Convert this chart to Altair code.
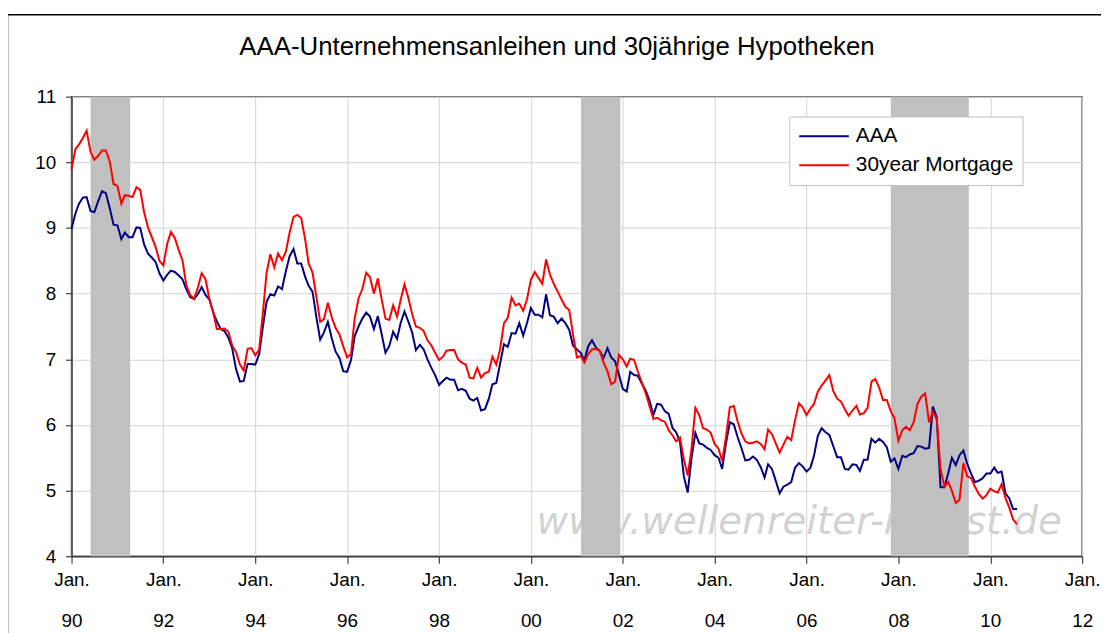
import altair as alt
import pandas as pd

# ---- data (monthly, Jan 1990 .. Aug 2010) ----
start_month = "1990-01-01"

aaa = [
    8.99, 9.22, 9.37, 9.46, 9.47, 9.26, 9.24, 9.41, 9.56, 9.53, 9.30, 9.05,   # 1990
    9.04, 8.83, 8.93, 8.86, 8.86, 9.01, 9.00, 8.75, 8.61, 8.55, 8.48, 8.31,   # 1991
    8.20, 8.29, 8.35, 8.33, 8.28, 8.22, 8.07, 7.95, 7.92, 7.99, 8.10, 7.98,   # 1992
    7.91, 7.71, 7.58, 7.46, 7.43, 7.33, 7.17, 6.85, 6.66, 6.67, 6.93, 6.93,   # 1993
    6.92, 7.08, 7.48, 7.88, 7.99, 7.97, 8.11, 8.07, 8.34, 8.57, 8.68, 8.46,   # 1994
    8.46, 8.26, 8.12, 8.03, 7.65, 7.30, 7.41, 7.57, 7.32, 7.12, 7.02, 6.82,   # 1995
    6.81, 6.99, 7.35, 7.50, 7.62, 7.71, 7.65, 7.46, 7.66, 7.39, 7.10, 7.20,   # 1996
    7.42, 7.31, 7.55, 7.73, 7.58, 7.41, 7.14, 7.22, 7.15, 7.00, 6.87, 6.76,   # 1997
    6.61, 6.67, 6.72, 6.69, 6.69, 6.53, 6.55, 6.52, 6.40, 6.37, 6.41, 6.22,   # 1998
    6.24, 6.40, 6.62, 6.64, 6.93, 7.23, 7.19, 7.40, 7.39, 7.55, 7.36, 7.55,   # 1999
    7.78, 7.68, 7.68, 7.64, 7.99, 7.67, 7.65, 7.55, 7.62, 7.55, 7.45, 7.21,   # 2000
    7.15, 7.10, 6.98, 7.20, 7.29, 7.18, 7.13, 7.02, 7.17, 7.03, 6.97, 6.77,   # 2001
    6.55, 6.51, 6.81, 6.76, 6.75, 6.63, 6.53, 6.37, 6.15, 6.32, 6.31, 6.21,   # 2002
    6.17, 5.95, 5.89, 5.74, 5.22, 4.97, 5.49, 5.88, 5.72, 5.70, 5.65, 5.62,   # 2003
    5.54, 5.50, 5.33, 5.73, 6.04, 6.01, 5.82, 5.65, 5.46, 5.47, 5.52, 5.47,   # 2004
    5.36, 5.20, 5.40, 5.33, 5.15, 4.96, 5.06, 5.09, 5.13, 5.35, 5.42, 5.37,   # 2005
    5.29, 5.35, 5.53, 5.84, 5.95, 5.89, 5.85, 5.68, 5.51, 5.51, 5.33, 5.32,   # 2006
    5.40, 5.39, 5.30, 5.47, 5.47, 5.79, 5.73, 5.79, 5.74, 5.66, 5.44, 5.49,   # 2007
    5.33, 5.53, 5.51, 5.55, 5.57, 5.68, 5.67, 5.64, 5.65, 6.28, 6.12, 5.05,   # 2008
    5.05, 5.27, 5.50, 5.39, 5.54, 5.61, 5.41, 5.26, 5.13, 5.15, 5.19, 5.26,   # 2009
    5.26, 5.35, 5.27, 5.29, 4.96, 4.88, 4.72, 4.72,                           # 2010
]

mortgage = [
    9.90, 10.20, 10.27, 10.37, 10.48, 10.16, 10.04, 10.10, 10.18, 10.18, 10.01, 9.67,  # 1990
    9.64, 9.37, 9.50, 9.49, 9.47, 9.62, 9.58, 9.24, 9.01, 8.86, 8.71, 8.50,   # 1991
    8.43, 8.76, 8.94, 8.85, 8.67, 8.51, 8.13, 7.98, 7.92, 8.09, 8.31, 8.22,   # 1992
    7.92, 7.71, 7.46, 7.46, 7.47, 7.42, 7.21, 7.11, 6.92, 6.83, 7.16, 7.17,   # 1993
    7.06, 7.15, 7.68, 8.32, 8.60, 8.40, 8.61, 8.51, 8.64, 8.93, 9.17, 9.20,   # 1994
    9.15, 8.83, 8.46, 8.32, 7.96, 7.57, 7.61, 7.86, 7.64, 7.48, 7.38, 7.20,   # 1995
    7.03, 7.08, 7.62, 7.93, 8.07, 8.32, 8.25, 8.00, 8.23, 7.92, 7.62, 7.60,   # 1996
    7.82, 7.65, 7.90, 8.14, 7.94, 7.69, 7.50, 7.48, 7.43, 7.29, 7.21, 7.10,   # 1997
    6.99, 7.04, 7.13, 7.14, 7.14, 7.00, 6.95, 6.92, 6.72, 6.71, 6.87, 6.72,   # 1998
    6.79, 6.81, 7.04, 6.92, 7.15, 7.55, 7.63, 7.94, 7.82, 7.85, 7.74, 7.91,   # 1999
    8.21, 8.33, 8.24, 8.15, 8.52, 8.29, 8.15, 8.03, 7.91, 7.80, 7.75, 7.38,   # 2000
    7.03, 7.05, 6.95, 7.08, 7.15, 7.16, 7.13, 6.95, 6.82, 6.62, 6.66, 7.07,   # 2001
    7.00, 6.89, 7.01, 6.99, 6.81, 6.65, 6.49, 6.29, 6.09, 6.11, 6.07, 6.05,   # 2002
    5.92, 5.84, 5.75, 5.81, 5.48, 5.23, 5.63, 6.26, 6.15, 5.95, 5.93, 5.88,   # 2003
    5.71, 5.64, 5.45, 5.83, 6.27, 6.29, 6.06, 5.87, 5.75, 5.72, 5.73, 5.75,   # 2004
    5.71, 5.63, 5.93, 5.86, 5.72, 5.58, 5.70, 5.82, 5.77, 6.07, 6.33, 6.27,   # 2005
    6.15, 6.25, 6.32, 6.51, 6.60, 6.68, 6.76, 6.52, 6.40, 6.36, 6.24, 6.14,   # 2006
    6.22, 6.29, 6.16, 6.18, 6.26, 6.66, 6.70, 6.57, 6.38, 6.38, 6.21, 6.10,   # 2007
    5.76, 5.92, 5.97, 5.92, 6.04, 6.32, 6.43, 6.48, 6.04, 6.20, 6.09, 5.33,   # 2008
    5.06, 5.13, 5.00, 4.81, 4.86, 5.42, 5.22, 5.19, 5.06, 4.95, 4.88, 4.93,   # 2009
    5.03, 4.99, 4.97, 5.10, 4.89, 4.74, 4.56, 4.49,                           # 2010
]

series_names = ["AAA", "30year Mortgage"]
series_colors = ["#000080", "#ff0000"]

recession_start = ["1990-06-01", "2001-02-03", "2007-11-02"]
recession_end = ["1991-04-12", "2001-12-12", "2009-07-14"]

tick_years = list(range(1990, 2013, 2))
y_ticks = [4, 5, 6, 7, 8, 9, 10, 11]

title_text = "AAA-Unternehmensanleihen und 30jährige Hypotheken"
watermark_text = "www.wellenreiter-invest.de"

FONT = "Liberation Sans"
W, H = 1018, 463

# ---- tables ----
dates = pd.date_range(start_month, periods=len(aaa), freq="MS")
lines_df = pd.concat([
    pd.DataFrame({"date": dates, "value": aaa, "series": series_names[0]}),
    pd.DataFrame({"date": pd.date_range(start_month, periods=len(mortgage), freq="MS"),
                  "value": mortgage, "series": series_names[1]}),
])
lines_df["date"] = lines_df["date"].dt.strftime("%Y-%m-%dT00:00:00")
bands_df = pd.DataFrame({"start": [s + "T00:00:00" for s in recession_start],
                         "end": [e + "T00:00:00" for e in recession_end]})
one_df = pd.DataFrame({"k": [0]})

x_scale = alt.Scale(domain=[alt.DateTime(year=1990, month=1, date=1),
                            alt.DateTime(year=2012, month=1, date=1)], nice=False)
y_scale = alt.Scale(domain=[4, 11], nice=False, zero=False)

frame = alt.Chart(one_df).mark_rect(fill="transparent", stroke="#000000", strokeWidth=1.5).encode(
    x=alt.value(-64.5), x2=alt.value(1060), y=alt.value(-82.5), y2=alt.value(640)
)

title = alt.Chart(one_df).mark_text(
    text=title_text, font=FONT, fontSize=26, color="#000000",
    align="center", baseline="alphabetic"
).encode(x=alt.value(489), y=alt.value(-42))

watermark = alt.Chart(one_df).mark_text(
    text=watermark_text, font="DejaVu Sans", fontStyle="italic", fontSize=39,
    color="#d2d2d2", align="center", baseline="alphabetic"
).encode(x=alt.value(733), y=alt.value(441))

bands = alt.Chart(bands_df).mark_rect(color="#c0c0c0", opacity=1).encode(
    x=alt.X("start:T", scale=x_scale),
    x2="end:T",
    y=alt.value(0),
    y2=alt.value(H),
)

lines = alt.Chart(lines_df).mark_line(strokeWidth=2).encode(
    x=alt.X("date:T", scale=x_scale, title=None,
            axis=alt.Axis(values=[alt.DateTime(year=y, month=1, date=1) for y in tick_years],
                          labelExpr="['Jan.', timeFormat(datum.value, '%y')]",
                          grid=True, gridColor="#d4d4d4", gridWidth=1,
                          tickSize=7, tickColor="#404040", tickWidth=1.2,
                          domainColor="#404040", domainWidth=1.5,
                          labelFont=FONT, labelFontSize=19, labelColor="#000000",
                          labelLineHeight=42, labelPadding=7, labelBaseline="top",
                          labelAlign="center", labelOverlap=False, labelFlush=False,
                          labelBound=False)),
    y=alt.Y("value:Q", scale=y_scale, title=None,
            axis=alt.Axis(values=y_ticks, grid=True, gridColor="#d4d4d4", gridWidth=1,
                          tickSize=6, tickColor="#404040", tickWidth=1.2,
                          domainColor="#404040", domainWidth=1.5,
                          labelFont=FONT, labelFontSize=19, labelColor="#000000",
                          labelPadding=10)),
    color=alt.Color("series:N",
                    scale=alt.Scale(domain=series_names, range=series_colors),
                    sort=series_names,
                    legend=alt.Legend(title=None, orient="none", legendX=723, legendY=20,
                                      fillColor="#ffffff", strokeColor="#c0c0c0",
                                      padding=9, symbolType="stroke", symbolSize=2500,
                                      symbolStrokeWidth=2, clipHeight=22,
                                      labelFont=FONT, labelFontSize=21,
                                      labelColor="#000000", labelOffset=6,
                                      rowPadding=7)),
)

chart = alt.layer(frame, title, watermark, bands, lines).properties(
    width=W, height=H,
    autosize=alt.AutoSizeParams(type="none"),
    padding={"left": 64, "top": 87, "right": 19, "bottom": 80},
    background="#ffffff",
).configure_view(stroke="#555555", strokeWidth=1.5)

chart.save("out.html", embed_options={"renderer": "svg", "actions": False})
